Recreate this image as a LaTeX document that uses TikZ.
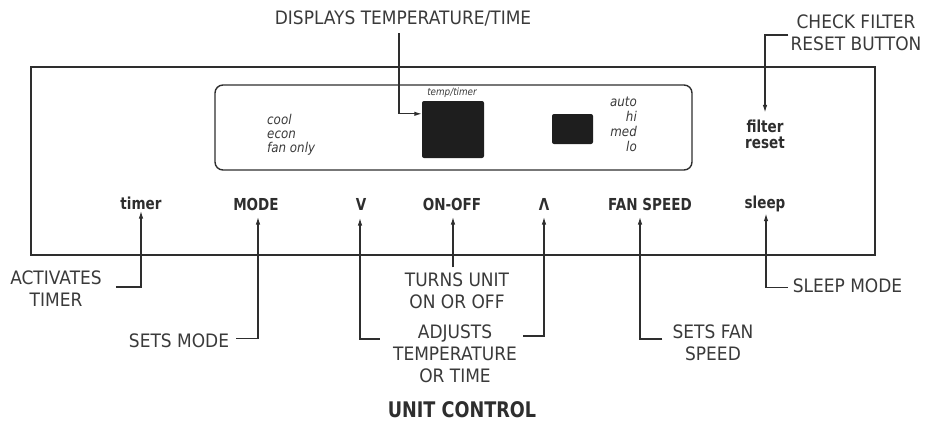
\documentclass[tikz,border=0pt]{standalone}
\usepackage{fontspec}
\setmainfont{DejaVu Sans}
\newfontfamily\lblfont{DejaVu Sans}[FakeStretch=0.92]
\newfontfamily\btnfont{DejaVu Sans}[FakeStretch=0.82]
\newfontfamily\pnlfont{DejaVu Sans}[FakeStretch=0.88]
\usetikzlibrary{arrows.meta,calc}
\definecolor{ink}{HTML}{2E2E2E}
\definecolor{txt}{HTML}{3A3A3A}
\definecolor{screen}{HTML}{1E1E1E}
\begin{document}
\begin{tikzpicture}[x=1pt,y=-1pt,
  lbl/.style={inner sep=0pt, text=txt, font=\lblfont\fontsize{18.5}{22}\selectfont, align=center},
  btn/.style={inner sep=0pt, text=ink, font=\btnfont\bfseries\fontsize{16.5}{16}\selectfont},
  pnl/.style={inner sep=0pt, text=txt, font=\pnlfont\itshape\fontsize{13.5}{14}\selectfont},
  arr/.style={draw=ink, line width=1.1pt, -{Latex[length=7.5pt,width=4.5pt]}},
  frame/.style={draw=ink, line width=2pt},
  panel/.style={draw=ink, line width=1.4pt, rounded corners=8pt},
  lcd/.style={fill=screen, draw=none, rounded corners=2pt}
]
\useasboundingbox (0,0) rectangle (925,424);
% outer frame and panel
\draw[frame] (31,67) rectangle (875,255);
\draw[panel] (215,85) rectangle (692,170);
\node[lcd, minimum width=62pt, minimum height=57pt, inner sep=0pt] (tempdisp) at (453,129.5) {};
\node[lcd, minimum width=41pt, minimum height=30pt, inner sep=0pt] (fandisp) at (572.5,129) {};
\node[inner sep=0pt, text=txt, font=\pnlfont\itshape\fontsize{10}{11}\selectfont, anchor=base] (templbl) at (452,95) {temp/timer};
\node[pnl, align=left, anchor=west] (modes) at (267,134.5) {cool\\econ\\fan only};
\node[pnl, align=right, anchor=east, font=\pnlfont\itshape\fontsize{13.5}{15}\selectfont] (speeds) at (637,124.7) {auto\\hi\\med\\lo};
\node[btn, align=center] (filter) at (765,134) {filter\\reset};
% buttons
\node[btn, anchor=base] (timer) at (141,209) {timer};
\node[btn, anchor=base] (mode) at (256,210) {MODE};
\node[btn, anchor=base] (vdown) at (361,210) {V};
\node[btn, anchor=base] (onoff) at (452,210) {ON-OFF};
\node[btn, anchor=base] (up) at (544,210) {Λ};
\node[btn, anchor=base] (fan) at (650,210) {FAN SPEED};
\node[btn, anchor=base] (sleep) at (765,208) {sleep};
% callout labels
\node[lbl, anchor=base] (displays) at (403,24) {DISPLAYS TEMPERATURE/TIME};
\node[lbl] (checkf) at (856,32.5) {CHECK FILTER\\RESET BUTTON};
\node[lbl] (act) at (56,289) {ACTIVATES\\TIMER};
\node[lbl, anchor=base] (setsmode) at (179,347) {SETS MODE};
\node[lbl] (turns) at (457,290.5) {TURNS UNIT\\ON OR OFF};
\node[lbl] (adj) at (455,354) {ADJUSTS\\TEMPERATURE\\OR TIME};
\node[lbl] (setsfan) at (713,343) {SETS FAN\\SPEED};
\node[lbl, anchor=base] (sleepmode) at (847.5,292) {SLEEP MODE};
\node[inner sep=0pt, text=ink, font=\btnfont\bfseries\fontsize{21.5}{22}\selectfont, anchor=base] (title) at (462,417) {UNIT CONTROL};
% connectors
\draw[arr] ($(displays.base)+(-4,9)$) |- ($(tempdisp.north west)+(0,13)$);
\draw[arr] ($(checkf.west)+(-2,2.5)$) -| ($(filter.north)+(0,-7)$);
\draw[arr] ($(act.east)+(14,-2)$) -| ($(timer.base)+(0,2)$);
\draw[arr] ($(setsmode.east)+(7,-2)$) -| ($(mode.base)+(2,7)$);
\draw[arr] ($(adj.west)+(-13,-15)$) -| ($(vdown.base)+(-1,8)$);
\draw[arr] ($(adj.east)+(6,-18)$) -| ($(up.base)+(0,7)$);
\draw[arr] ($(turns.north)+(-4,-5)$) -- ($(onoff.base)+(1,7)$);
\draw[arr] ($(setsfan.west)+(-10,-4)$) -| ($(fan.base)+(-10,7)$);
\draw[arr] ($(sleepmode.west)+(-5,2)$) -| ($(sleep.south)+(1,2)$);
\end{tikzpicture}
\end{document}
